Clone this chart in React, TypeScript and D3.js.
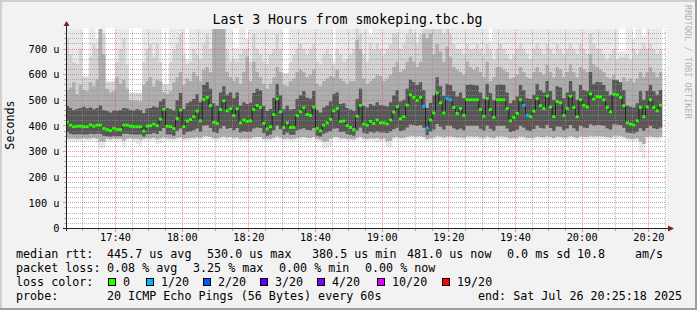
import React from 'react';
import * as d3 from 'd3';

// ---------- data (microseconds, one value per 60 s step) ----------
const median = [
  414,403,397,399,399,397,397,404,399,403,
  403,390,386,382,390,386,386,403,403,399,
  397,397,397,380,399,401,407,401,427,465,
  399,397,390,429,462,397,419,425,436,458,
  420,503,511,479,414,410,464,498,459,467,
  441,467,412,423,418,420,464,480,472,410,
  389,397,444,506,455,394,412,394,394,441,
  455,471,445,441,473,390,381,403,412,426,
  459,468,418,419,401,394,386,438,480,408,
  403,418,410,423,412,412,408,423,454,475,
  428,436,481,521,511,500,511,477,392,423,
  451,529,490,451,507,502,472,449,468,441,
  502,502,502,502,464,438,507,464,434,502,
  502,502,468,420,433,449,502,480,441,437,
  458,507,479,468,517,474,436,495,490,441,
  468,516,472,436,502,480,474,525,505,514,
  513,502,472,455,524,521,511,479,412,407,
  404,420,472,436,474,502,472,459,481,
];

const pingMax = [
  790,790,790,790,790,595,595,790,790,740,
  790,790,576,576,576,790,790,790,790,530,
  530,530,530,790,790,790,790,790,790,564,
  564,790,790,790,790,790,660,790,790,790,
  790,790,790,790,790,790,790,790,790,790,
  705,705,790,790,740,790,790,790,790,790,
  790,790,790,790,790,607,607,790,790,790,
  790,790,790,790,790,790,790,790,790,790,
  650,790,790,790,790,790,790,790,790,790,
  790,758,790,790,790,790,790,790,790,790,
  790,790,790,790,790,790,790,790,790,790,
  790,790,790,790,790,790,790,790,790,790,
  790,790,790,790,790,790,790,731,790,790,
  790,790,790,790,790,790,790,790,790,790,
  790,790,790,790,790,790,790,790,790,790,
  790,790,790,790,790,790,790,790,790,790,
  790,790,790,790,790,790,690,690,790,790,
  740,790,790,750,790,790,790,790,790,
];

const pingU = [
  740,680,650,640,700,590,590,670,720,700,
  778,760,570,570,575,650,700,740,640,528,
  528,528,528,650,700,720,670,720,650,560,
  560,650,700,720,760,680,640,650,700,680,
  660,720,760,700,778,778,778,778,700,650,
  660,650,680,700,700,650,760,700,680,650,
  640,680,700,760,700,605,605,650,680,700,
  720,700,680,700,720,650,640,680,700,680,
  640,700,680,650,660,680,700,778,760,680,
  650,720,700,720,700,680,700,720,760,760,
  700,720,760,778,760,720,760,778,778,778,
  778,778,778,760,778,760,720,700,700,680,
  720,700,700,720,700,680,720,700,660,700,
  720,700,680,660,680,700,720,700,680,660,
  700,720,700,680,720,700,680,720,700,680,
  700,720,700,680,720,700,680,760,720,700,
  700,680,660,680,700,660,670,670,680,660,
  700,680,700,720,700,720,700,680,700,
];

const pingHi = [
  540,550,570,525,560,540,535,570,555,580,
  778,680,545,530,535,590,565,580,545,500,
  500,498,495,560,575,590,555,580,575,530,
  525,535,570,590,610,560,585,575,610,595,
  575,620,630,610,778,778,778,778,610,590,
  575,590,565,610,670,575,650,610,590,565,
  545,565,590,630,610,560,555,575,585,610,
  620,610,590,600,620,565,555,575,585,595,
  590,620,585,575,565,575,575,735,700,585,
  565,575,585,600,595,575,585,600,630,650,
  610,620,650,670,650,630,650,760,740,760,
  680,720,690,650,710,670,630,620,610,600,
  650,630,620,630,610,590,650,575,590,630,
  630,620,610,585,590,600,630,610,590,585,
  610,630,610,600,640,610,590,630,620,590,
  610,640,610,590,630,620,610,680,640,630,
  620,610,590,585,600,580,570,590,575,585,
  570,585,610,590,610,630,610,590,610,
];

const pingQ3 = [
  478,470,462,466,470,475,468,472,465,470,
  480,462,458,452,460,458,462,470,468,462,
  460,466,462,450,468,470,476,472,495,505,
  470,466,460,500,528,466,488,495,505,525,
  492,560,570,545,488,480,530,555,522,530,
  508,530,480,492,486,490,528,545,538,478,
  458,466,510,565,520,465,480,464,466,505,
  520,535,510,506,536,462,452,472,480,495,
  525,530,486,488,470,464,458,505,545,478,
  472,486,480,492,482,480,476,492,520,540,
  495,502,545,580,570,560,570,540,470,490,
  520,590,555,518,565,560,535,515,530,508,
  560,562,560,558,530,505,565,528,500,560,
  562,560,530,488,500,515,560,540,508,505,
  522,565,540,530,575,536,502,555,550,508,
  530,575,535,502,560,540,535,610,565,572,
  570,560,535,520,580,578,570,540,480,475,
  472,488,535,502,536,560,535,522,540,
];

const pingQ1 = [
  376,370,367,368,368,367,367,370,368,370,
  370,362,360,358,362,360,360,370,370,368,
  367,367,367,358,368,369,372,369,380,392,
  368,367,362,381,390,367,376,378,383,390,
  377,401,404,392,375,372,390,400,389,392,
  383,392,374,378,376,377,390,394,392,372,
  362,367,383,402,387,366,374,366,366,383,
  387,391,384,383,392,362,358,370,374,379,
  389,391,376,377,369,366,362,382,394,372,
  370,376,373,378,374,374,372,378,387,393,
  380,383,394,406,404,400,404,393,364,378,
  386,408,397,386,402,401,391,385,390,383,
  401,401,401,401,389,382,402,389,381,401,
  401,401,390,376,380,385,401,394,383,381,
  388,402,393,390,405,392,381,398,397,383,
  390,404,391,381,401,394,392,407,402,404,
  404,401,391,386,407,406,404,393,374,372,
  371,376,391,381,392,401,391,388,394,
];

const pingLow = [
  352,350,351,349,350,352,350,351,353,350,
  340,338,350,348,351,349,350,342,351,352,
  350,349,346,350,352,351,353,348,351,355,
  352,350,349,354,356,350,352,353,354,356,
  353,360,361,357,352,351,356,359,355,357,
  354,356,350,352,351,352,356,358,357,350,
  349,350,354,360,355,349,352,349,350,354,
  355,357,354,353,357,349,347,338,340,350,
  356,357,352,352,350,349,348,354,358,351,
  350,352,351,353,348,352,340,342,355,357,
  353,354,358,362,361,360,361,357,349,352,
  355,362,359,355,360,360,357,355,356,354,
  360,360,359,360,356,354,360,356,353,360,
  360,359,356,352,354,355,360,358,354,353,
  355,360,357,356,361,357,353,359,358,354,
  356,361,357,353,360,358,357,362,360,361,
  361,360,357,355,362,362,361,358,351,350,
  350,352,340,330,357,360,357,356,358,
];

const pingMin = [
  342,340,341,338,341,343,340,342,344,335,
  312,314,340,338,342,340,341,316,342,343,
  341,330,318,340,343,342,344,330,332,345,
  343,341,340,344,346,341,343,344,345,346,
  344,348,349,346,343,342,345,347,345,346,
  344,345,341,343,342,343,345,347,346,341,
  340,341,344,348,345,340,343,340,341,344,
  345,346,344,343,346,340,338,311,313,320,
  346,346,343,343,341,340,339,344,347,342,
  341,343,342,335,339,343,318,316,345,346,
  344,345,347,349,348,348,348,346,340,343,
  345,349,348,345,348,348,346,345,346,344,
  348,348,347,348,345,344,348,345,343,348,
  348,347,345,343,344,345,348,347,344,343,
  345,348,346,345,349,346,343,347,346,344,
  345,348,346,343,347,346,345,349,348,348,
  348,348,346,345,349,349,348,347,342,341,
  340,342,300,272,346,348,346,345,347,
];

// minutes (step index) with packet loss, and lost pings out of 20
const lossAt = [107, 108, 114, 115, 137, 138];
const lossCount = [1, 1, 1, 1, 1, 1];

const lossLevels = [0, 1, 2, 3, 4, 10, 19];
const lossLabels = ['0', '1/20', '2/20', '3/20', '4/20', '10/20', '19/20'];
const lossColors = ['#26ff00', '#00b8ff', '#0059ff', '#5e00ff', '#7e00ff', '#dd00ff', '#ff0000'];

const yTicks = [0, 100, 200, 300, 400, 500, 600, 700];
const yTickLabels = ['0', '100 u', '200 u', '300 u', '400 u', '500 u', '600 u', '700 u'];

const legendRows = [
  [['median rtt:', 16], ['445.7 us avg', 107], ['530.0 us max', 207], ['380.5 us min', 312], ['481.0 us now', 407], ['0.0 ms sd', 507], ['10.8', 577], ['am/s', 635]],
  [['packet loss:', 16], ['0.08 % avg', 107], ['3.25 % max', 193], ['0.00 % min', 279], ['0.00 % now', 365]],
  [['loss color:', 16]],
  [['probe:', 16], ['20 ICMP Echo Pings (56 Bytes) every 60s', 107], ['end: Sat Jul 26 20:25:18 2025', 478]],
] as [string, number][][];
const lossBoxX = [108, 146, 203, 260, 317, 377, 442];

// ---------- layout ----------
const W = 697, H = 310;
const PL = 66.5, PR = 666.5, PT = 28.5, PB = 228.5;
const startTime = new Date(2025, 6, 26, 17, 25, 18);
const endTime = new Date(2025, 6, 26, 20, 25, 18);
const firstSlot = new Date(2025, 6, 26, 17, 25, 0);
const FONT = '"DejaVu Sans Mono", monospace';

export default function App() {
  React.useEffect(() => { document.body.style.margin = '0'; }, []);

  const x = d3.scaleTime().domain([startTime, endTime]).range([PL, PR]);
  const y = d3.scaleLinear().domain([0, 780]).range([PB, PT]);
  const n = median.length;
  const idx = d3.range(n + 1);
  const slotX = idx.map(i => x(d3.timeMinute.offset(firstSlot, i)));
  const at = (arr: number[], i: number) => arr[Math.min(i, n - 1)];

  const band = (lo: number[], hi: number[]) =>
    d3.area<number>()
      .x(i => slotX[i])
      .y0(i => y(at(lo, i)))
      .y1(i => y(at(hi, i)))
      .curve(d3.curveStepAfter)(idx) || '';

  const bands: [number[], number[], string][] = [
    [pingMin, pingMax, '#e9e9e9'],
    [pingLow, pingU, '#d3d3d3'],
    [pingLow, pingHi, '#adadad'],
    [pingQ1, pingQ3, '#575757'],
  ];

  const medLine = d3.line<number>()
    .x(i => slotX[i])
    .y(i => y(at(median, i)))
    .curve(d3.curveStepAfter)(idx) || '';

  const lossColor = (c: number) => {
    let k = 0;
    lossLevels.forEach((l, j) => { if (c >= l) k = j; });
    return lossColors[k];
  };
  const lossOf = (i: number) => {
    const j = lossAt.indexOf(i);
    return j >= 0 ? lossCount[j] : 0;
  };

  const minorX = x.ticks(d3.timeMinute.every(5)!).filter(t => t.getMinutes() % 20 !== 0);
  const majorX = x.ticks(d3.timeMinute.every(20)!);
  const minorY = d3.range(20, 780, 20).filter(v => v % 100 !== 0);
  const majorY = yTicks.filter(v => v > 0);
  const pix = (v: number) => Math.floor(v);

  const gridMinor = 'rgba(143,143,143,0.65)';
  const gridMajor = 'rgba(222,79,79,0.6)';
  const gx0 = 67, gx1 = 666, gy0 = 29, gy1 = 228;

  return (
    <svg width={W} height={H} style={{ position: 'absolute', left: 0, top: 0, display: 'block' }}
      fontFamily={FONT}>
      <defs>
        <clipPath id="plot"><rect x={67} y={PT} width={PR - 67} height={PB - PT} /></clipPath>
        <pattern id="dotHmin" patternUnits="userSpaceOnUse" x={0} y={0} width={2} height={1}>
          <rect x={0} y={0} width={1} height={1} fill={gridMinor} />
        </pattern>
        <pattern id="dotVmin" patternUnits="userSpaceOnUse" x={0} y={0} width={1} height={2}>
          <rect x={0} y={0} width={1} height={1} fill={gridMinor} />
        </pattern>
        <pattern id="dotHmaj" patternUnits="userSpaceOnUse" x={0} y={0} width={2} height={1}>
          <rect x={0} y={0} width={1} height={1} fill={gridMajor} />
        </pattern>
        <pattern id="dotVmaj" patternUnits="userSpaceOnUse" x={0} y={0} width={1} height={2}>
          <rect x={0} y={0} width={1} height={1} fill={gridMajor} />
        </pattern>
      </defs>
      <rect x={0} y={0} width={W} height={H} fill="#f2f2f2" />
      {/* 3D frame */}
      <rect x={0} y={0} width={W} height={2} fill="#cfcfcf" />
      <rect x={0} y={0} width={2} height={H} fill="#cfcfcf" />
      <rect x={0} y={H - 2} width={W} height={2} fill="#9e9e9e" />
      <rect x={W - 2} y={0} width={2} height={H} fill="#9e9e9e" />

      <rect x={67} y={PT} width={PR - 67} height={PB - PT} fill="#ffffff" />

      <g clipPath="url(#plot)">
        {bands.map(([lo, hi, c], k) => <path key={k} d={band(lo, hi)} fill={c} />)}
      </g>

      {/* grid (1-on / 1-off dotted pixels) */}
      <g shapeRendering="crispEdges">
        {minorY.map(v => <rect key={'my' + v} x={gx0} y={pix(y(v))} width={gx1 - gx0} height={1} fill="url(#dotHmin)" />)}
        {minorX.map(t => <rect key={'mx' + +t} x={pix(x(t))} y={gy0} width={1} height={gy1 - gy0} fill="url(#dotVmin)" />)}
        {majorY.map(v => <rect key={'My' + v} x={gx0} y={pix(y(v))} width={gx1 - gx0} height={1} fill="url(#dotHmaj)" />)}
        {majorX.map(t => <rect key={'Mx' + +t} x={pix(x(t))} y={gy0} width={1} height={gy1 - gy0} fill="url(#dotVmaj)" />)}
        {/* ticks outside the canvas */}
        {minorY.map(v => <rect key={'ty' + v} x={64} y={pix(y(v))} width={2} height={1} fill={gridMinor} />)}
        {majorY.map(v => <rect key={'tY' + v} x={63} y={pix(y(v))} width={3} height={1} fill={gridMajor} />)}
        {minorX.map(t => <rect key={'tx' + +t} x={pix(x(t))} y={229} width={1} height={2} fill={gridMinor} />)}
        {majorX.map(t => <rect key={'tX' + +t} x={pix(x(t))} y={229} width={1} height={3} fill={gridMajor} />)}
      </g>

      <g clipPath="url(#plot)">
        <path d={medLine} fill="none" stroke="#202020" strokeWidth={1} />
        {median.map((m, i) => (
          <rect key={i} x={slotX[i]} y={y(m) - 1.4} width={slotX[i + 1] - slotX[i]} height={2.8}
            fill={lossColor(lossOf(i))} />
        ))}
      </g>

      {/* axes */}
      <line x1={63} x2={668} y1={PB} y2={PB} stroke="#1f1f1f" />
      <line x1={PL} x2={PL} y1={231} y2={25} stroke="#1f1f1f" />
      <polygon points={`668,${PB - 3} 674,${PB} 668,${PB + 3}`} fill="#801f1f" />
      <polygon points={`${PL - 3},26 ${PL},21 ${PL + 3},26`} fill="#801f1f" />

      {/* tick labels */}
      <g fontSize={10.3} fill="#000">
        {yTicks.map((v, k) => (
          <text key={'yl' + v} x={59.5} y={y(v) + 3.7} textAnchor="end">{yTickLabels[k]}</text>
        ))}
        {majorX.map(t => (
          <text key={'xl' + +t} x={x(t)} y={241} textAnchor="middle">{d3.timeFormat('%H:%M')(t)}</text>
        ))}
      </g>

      <text x={347.5} y={24} textAnchor="middle" fontSize={13.2} fill="#000">Last 3 Hours from smokeping.tbc.bg</text>
      <text transform="translate(14,125) rotate(-90)" textAnchor="middle" fontSize={11.7} fill="#000">Seconds</text>
      <text transform="translate(685,5) rotate(90)" fontSize={8.6} fill="#000" fillOpacity={0.3}>RRDTOOL / TOBI OETIKER</text>

      {/* legend */}
      <g fontSize={11.7} fill="#000" style={{ whiteSpace: 'pre' }}>
        {legendRows.map((row, r) => row.map(([s, lx], k) => (
          <text key={r + '-' + k} x={lx} y={258 + r * 14}>{s}</text>
        )))}
        {lossLabels.map((l, k) => (
          <g key={'lc' + k}>
            <rect x={lossBoxX[k] + 0.5} y={278.5} width={7} height={7} fill={lossColors[k]} stroke="#000" strokeWidth={1} />
            <text x={lossBoxX[k] + 15} y={286}>{l}</text>
          </g>
        ))}
      </g>
    </svg>
  );
}
